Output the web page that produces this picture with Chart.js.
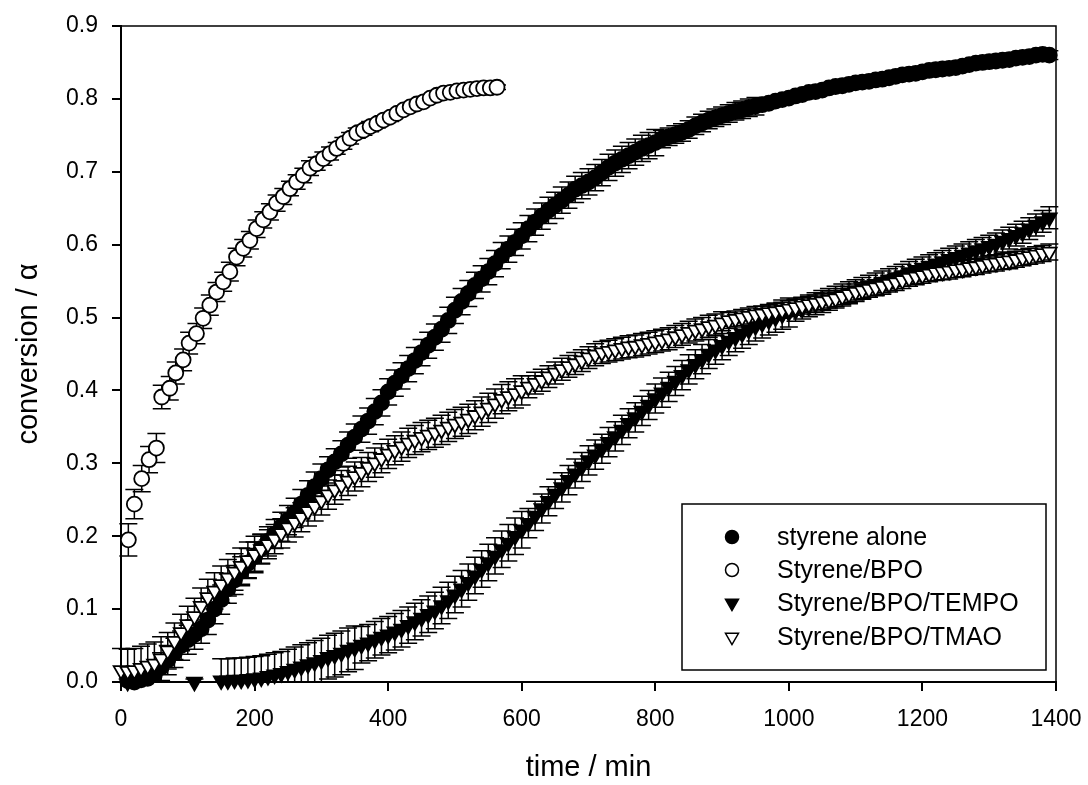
<!DOCTYPE html>
<html>
<head>
<meta charset="utf-8">
<title>Conversion vs time</title>
<script src="https://cdn.jsdelivr.net/npm/chart.js@4.4.1/dist/chart.umd.min.js"></script>
<style>
  html, body { margin: 0; padding: 0; background: #fff; }
  #wrap { width: 1088px; height: 785px; }
</style>
</head>
<body>
<div id="wrap"><canvas id="conversionChart" width="1088" height="785"></canvas></div>
<script>
// shared time grid (min) for the densely sampled runs
const timeGrid = [
  0, 10, 20, 30, 40, 50, 60, 70, 80, 90,
  100, 110, 120, 130, 140, 150, 160, 170, 180, 190,
  200, 210, 220, 230, 240, 250, 260, 270, 280, 290,
  300, 310, 320, 330, 340, 350, 360, 370, 380, 390,
  400, 410, 420, 430, 440, 450, 460, 470, 480, 490,
  500, 510, 520, 530, 540, 550, 560, 570, 580, 590,
  600, 610, 620, 630, 640, 650, 660, 670, 680, 690,
  700, 710, 720, 730, 740, 750, 760, 770, 780, 790,
  800, 810, 820, 830, 840, 850, 860, 870, 880, 890,
  900, 910, 920, 930, 940, 950, 960, 970, 980, 990,
  1000, 1010, 1020, 1030, 1040, 1050, 1060, 1070, 1080, 1090,
  1100, 1110, 1120, 1130, 1140, 1150, 1160, 1170, 1180, 1190,
  1200, 1210, 1220, 1230, 1240, 1250, 1260, 1270, 1280, 1290,
  1300, 1310, 1320, 1330, 1340, 1350, 1360, 1370, 1380, 1390,
];

const styreneAlone = [
  null, 0.002, 0.000, 0.003, 0.005, 0.010, 0.020, 0.030, 0.040, 0.050,
  0.058, 0.065, 0.073, 0.085, 0.100, 0.113, 0.128, 0.140, 0.152, 0.163,
  0.172, 0.183, 0.193, 0.203, 0.213, 0.222, 0.232, 0.244, 0.256, 0.268,
  0.279, 0.291, 0.302, 0.313, 0.325, 0.336, 0.347, 0.358, 0.371, 0.383,
  0.398, 0.410, 0.420, 0.430, 0.441, 0.452, 0.462, 0.473, 0.484, 0.496,
  0.510, 0.522, 0.533, 0.544, 0.553, 0.563, 0.574, 0.585, 0.594, 0.603,
  0.612, 0.622, 0.631, 0.639, 0.647, 0.654, 0.661, 0.668, 0.676, 0.681,
  0.686, 0.692, 0.699, 0.706, 0.712, 0.717, 0.722, 0.727, 0.732, 0.736,
  0.740, 0.745, 0.748, 0.751, 0.754, 0.758, 0.763, 0.767, 0.771, 0.774,
  0.777, 0.780, 0.783, 0.785, 0.788, 0.790, 0.792, 0.794, 0.797, 0.799,
  0.801, 0.804, 0.806, 0.809, 0.810, 0.812, 0.815, 0.817, 0.818, 0.820,
  0.822, 0.823, 0.824, 0.826, 0.827, 0.829, 0.831, 0.833, 0.834, 0.835,
  0.837, 0.839, 0.840, 0.841, 0.842, 0.843, 0.845, 0.847, 0.849, 0.850,
  0.851, 0.852, 0.853, 0.854, 0.856, 0.857, 0.858, 0.860, 0.861, 0.860,
];
const styreneAloneErr = [
  null, 0.010, 0.010, 0.010, 0.010, 0.010, 0.020, 0.020, 0.020, 0.020,
  0.020, 0.020, 0.020, 0.020, 0.020, 0.020, 0.020, 0.020, 0.020, 0.020,
  0.020, 0.020, 0.020, 0.020, 0.020, 0.020, 0.020, 0.020, 0.020, 0.020,
  0.020, 0.018, 0.018, 0.018, 0.018, 0.018, 0.018, 0.018, 0.018, 0.018,
  0.018, 0.018, 0.018, 0.018, 0.018, 0.018, 0.018, 0.018, 0.018, 0.018,
  0.018, 0.018, 0.018, 0.018, 0.018, 0.018, 0.018, 0.018, 0.018, 0.018,
  0.018, 0.018, 0.018, 0.018, 0.018, 0.018, 0.018, 0.018, 0.018, 0.018,
  0.018, 0.018, 0.018, 0.018, 0.018, 0.018, 0.018, 0.018, 0.018, 0.018,
  0.018, 0.012, 0.012, 0.012, 0.012, 0.012, 0.012, 0.012, 0.012, 0.012,
  0.012, 0.012, 0.012, 0.012, 0.012, 0.012, 0.006, 0.006, 0.006, 0.006,
  0.006, 0.006, 0.006, 0.006, 0.006, 0.006, 0.006, 0.006, 0.006, 0.006,
  0.006, 0.006, 0.006, 0.006, 0.006, 0.006, 0.006, 0.006, 0.006, 0.006,
  0.006, 0.006, 0.006, 0.006, 0.006, 0.006, 0.006, 0.006, 0.006, 0.006,
  0.006, 0.006, 0.006, 0.006, 0.006, 0.006, 0.006, 0.006, 0.006, 0.006,
];

// Styrene/BPO has its own sampling times
const bpoTimes = [
  11, 20, 31, 42, 53, 61, 73, 82, 93, 102,
  113, 123, 133, 143, 153, 163, 173, 183, 193, 203,
  213, 223, 233, 243, 253, 263, 273, 283, 293, 303,
  313, 323, 333, 343, 353, 363, 373, 383, 393, 403,
  413, 423, 433, 443, 453, 463, 473, 483, 493, 503,
  513, 523, 533, 543, 553, 563,
];
const styreneBpo = [
  0.195, 0.244, 0.279, 0.305, 0.321, 0.391, 0.403, 0.424, 0.442, 0.465,
  0.478, 0.499, 0.517, 0.535, 0.549, 0.563, 0.583, 0.595, 0.606, 0.622,
  0.634, 0.645, 0.657, 0.666, 0.677, 0.686, 0.695, 0.705, 0.711, 0.718,
  0.725, 0.732, 0.739, 0.746, 0.753, 0.757, 0.762, 0.766, 0.771, 0.775,
  0.780, 0.785, 0.789, 0.793, 0.796, 0.801, 0.805, 0.808, 0.809, 0.811,
  0.812, 0.813, 0.814, 0.815, 0.815, 0.816,
];
const styreneBpoErr = [
  0.022, 0.020, 0.018, 0.018, 0.020, 0.016, 0.016, 0.015, 0.015, 0.015,
  0.014, 0.014, 0.014, 0.013, 0.013, 0.013, 0.012, 0.012, 0.012, 0.012,
  0.011, 0.011, 0.011, 0.011, 0.010, 0.010, 0.010, 0.010, 0.009, 0.009,
  0.009, 0.008, 0.008, 0.008, 0.007, 0.007, 0.007, 0.006, 0.006, 0.006,
  0.005, 0.005, 0.005, 0.005, 0.004, 0.004, 0.004, 0.004, 0.004, 0.003,
  0.003, 0.003, 0.003, 0.003, 0.003, 0.003,
];

const styreneBpoTempo = [
  null, 0.000, null, null, null, null, null, null, null, null,
  null, 0.000, null, null, null, 0.002, 0.002, 0.003, 0.003, 0.004,
  0.005, 0.006, 0.008, 0.010, 0.012, 0.015, 0.018, 0.021, 0.024, 0.027,
  0.030, 0.034, 0.037, 0.040, 0.044, 0.047, 0.051, 0.054, 0.058, 0.062,
  0.065, 0.069, 0.073, 0.078, 0.083, 0.088, 0.093, 0.098, 0.105, 0.112,
  0.120, 0.128, 0.137, 0.146, 0.155, 0.164, 0.173, 0.182, 0.191, 0.200,
  0.209, 0.218, 0.228, 0.238, 0.248, 0.258, 0.267, 0.277, 0.286, 0.295,
  0.304, 0.312, 0.320, 0.329, 0.337, 0.346, 0.355, 0.363, 0.372, 0.380,
  0.389, 0.397, 0.405, 0.413, 0.421, 0.429, 0.436, 0.443, 0.450, 0.456,
  0.462, 0.468, 0.473, 0.478, 0.483, 0.488, 0.492, 0.496, 0.500, 0.504,
  0.507, 0.510, 0.513, 0.516, 0.519, 0.522, 0.525, 0.528, 0.531, 0.534,
  0.537, 0.540, 0.543, 0.546, 0.549, 0.552, 0.555, 0.558, 0.562, 0.565,
  0.568, 0.571, 0.574, 0.577, 0.580, 0.583, 0.586, 0.589, 0.592, 0.595,
  0.598, 0.601, 0.605, 0.609, 0.613, 0.617, 0.622, 0.627, 0.632, 0.637,
];
const styreneBpoTempoErr = [
  null, 0.004, null, null, null, null, null, null, null, null,
  null, 0.004, null, null, null, 0.030, 0.030, 0.030, 0.030, 0.030,
  0.030, 0.030, 0.030, 0.030, 0.030, 0.030, 0.030, 0.030, 0.030, 0.030,
  0.030, 0.030, 0.030, 0.030, 0.030, 0.030, 0.025, 0.025, 0.025, 0.025,
  0.025, 0.025, 0.025, 0.025, 0.025, 0.025, 0.025, 0.025, 0.025, 0.025,
  0.025, 0.025, 0.025, 0.025, 0.025, 0.025, 0.025, 0.025, 0.025, 0.025,
  0.025, 0.020, 0.020, 0.020, 0.020, 0.020, 0.020, 0.020, 0.020, 0.020,
  0.020, 0.020, 0.020, 0.020, 0.020, 0.020, 0.020, 0.020, 0.020, 0.020,
  0.020, 0.020, 0.020, 0.020, 0.020, 0.020, 0.020, 0.020, 0.020, 0.020,
  0.020, 0.020, 0.020, 0.020, 0.020, 0.020, 0.020, 0.020, 0.020, 0.020,
  0.020, 0.015, 0.015, 0.015, 0.015, 0.015, 0.015, 0.015, 0.015, 0.015,
  0.015, 0.015, 0.015, 0.015, 0.015, 0.015, 0.015, 0.015, 0.015, 0.015,
  0.015, 0.015, 0.015, 0.015, 0.015, 0.015, 0.015, 0.015, 0.015, 0.015,
  0.015, 0.015, 0.015, 0.015, 0.015, 0.015, 0.015, 0.015, 0.015, 0.015,
];

const styreneBpoTmao = [
  0.016, 0.015, 0.016, 0.019, 0.022, 0.025, 0.032, 0.043, 0.056, 0.068,
  0.079, 0.090, 0.104, 0.116, 0.125, 0.134, 0.143, 0.151, 0.159, 0.167,
  0.175, 0.182, 0.189, 0.196, 0.204, 0.212, 0.219, 0.226, 0.234, 0.241,
  0.249, 0.257, 0.264, 0.270, 0.276, 0.282, 0.288, 0.295, 0.301, 0.307,
  0.313, 0.318, 0.323, 0.328, 0.332, 0.336, 0.339, 0.342, 0.346, 0.350,
  0.354, 0.357, 0.361, 0.366, 0.371, 0.376, 0.382, 0.388, 0.392, 0.396,
  0.400, 0.405, 0.410, 0.414, 0.419, 0.424, 0.429, 0.433, 0.437, 0.441,
  0.445, 0.449, 0.452, 0.454, 0.456, 0.458, 0.460, 0.461, 0.463, 0.465,
  0.467, 0.469, 0.471, 0.474, 0.477, 0.480, 0.483, 0.485, 0.488, 0.490,
  0.493, 0.496, 0.498, 0.500, 0.502, 0.504, 0.505, 0.507, 0.508, 0.510,
  0.512, 0.514, 0.516, 0.518, 0.520, 0.522, 0.524, 0.526, 0.529, 0.532,
  0.535, 0.537, 0.539, 0.541, 0.543, 0.546, 0.548, 0.551, 0.554, 0.556,
  0.558, 0.560, 0.562, 0.563, 0.564, 0.566, 0.567, 0.569, 0.570, 0.572,
  0.574, 0.575, 0.577, 0.578, 0.580, 0.582, 0.584, 0.586, 0.588, 0.590,
];
const styreneBpoTmaoErr = [
  0.030, 0.030, 0.030, 0.030, 0.030, 0.030, 0.030, 0.025, 0.025, 0.025,
  0.025, 0.025, 0.025, 0.025, 0.025, 0.025, 0.025, 0.025, 0.025, 0.025,
  0.025, 0.020, 0.020, 0.020, 0.020, 0.020, 0.020, 0.020, 0.020, 0.020,
  0.020, 0.020, 0.020, 0.020, 0.020, 0.020, 0.020, 0.020, 0.020, 0.020,
  0.020, 0.020, 0.020, 0.020, 0.020, 0.020, 0.020, 0.020, 0.020, 0.020,
  0.020, 0.020, 0.020, 0.020, 0.020, 0.020, 0.020, 0.020, 0.020, 0.020,
  0.020, 0.015, 0.015, 0.015, 0.015, 0.015, 0.015, 0.015, 0.015, 0.015,
  0.015, 0.015, 0.015, 0.015, 0.015, 0.015, 0.015, 0.015, 0.015, 0.015,
  0.015, 0.015, 0.015, 0.015, 0.015, 0.015, 0.015, 0.015, 0.015, 0.015,
  0.015, 0.011, 0.011, 0.011, 0.011, 0.011, 0.011, 0.011, 0.011, 0.011,
  0.011, 0.011, 0.011, 0.011, 0.011, 0.011, 0.011, 0.011, 0.011, 0.011,
  0.011, 0.011, 0.011, 0.011, 0.011, 0.011, 0.011, 0.011, 0.011, 0.011,
  0.011, 0.011, 0.011, 0.011, 0.011, 0.011, 0.011, 0.011, 0.011, 0.011,
  0.011, 0.011, 0.011, 0.011, 0.011, 0.011, 0.011, 0.011, 0.011, 0.011,
];

const xTicks = [0, 200, 400, 600, 800, 1000, 1200, 1400];
const yTicks = [0.0, 0.1, 0.2, 0.3, 0.4, 0.5, 0.6, 0.7, 0.8, 0.9];

const FONT = "'Liberation Sans', Arial, Helvetica, sans-serif";

function toPoints(times, values, errs) {
  const pts = [];
  times.forEach((t, i) => {
    if (values[i] === null || values[i] === undefined) return;
    pts.push({ x: t, y: values[i], err: errs[i] || 0 });
  });
  return pts;
}

// vertical error bars with caps, drawn under each dataset's own markers
const errorBarPlugin = {
  id: "errorBars",
  beforeDatasetDraw(chart, args) {
    const { ctx, chartArea } = chart;
    const yScale = chart.scales.y;
    const dataset = chart.data.datasets[args.index];
    const capHalf = 9;
    ctx.save();
    ctx.beginPath();
    ctx.rect(0, chartArea.top, chart.width, chartArea.bottom - chartArea.top);
    ctx.clip();
    ctx.strokeStyle = "#000";
    ctx.lineWidth = 1.5;
    args.meta.data.forEach((el, i) => {
      const p = dataset.data[i];
      if (!p || !p.err) return;
      const yTop = yScale.getPixelForValue(p.y + p.err);
      const yBot = yScale.getPixelForValue(p.y - p.err);
      ctx.beginPath();
      ctx.moveTo(el.x, yTop);
      ctx.lineTo(el.x, yBot);
      ctx.moveTo(el.x - capHalf, yTop);
      ctx.lineTo(el.x + capHalf, yTop);
      ctx.moveTo(el.x - capHalf, yBot);
      ctx.lineTo(el.x + capHalf, yBot);
      ctx.stroke();
    });
    ctx.restore();
  },
};

// closes the plot frame and draws the boxed legend in the lower right
const frameLegendPlugin = {
  id: "frameLegend",
  afterDraw(chart) {
    const { ctx, chartArea } = chart;
    ctx.save();
    ctx.strokeStyle = "#000";
    ctx.lineWidth = 1.5;
    ctx.beginPath();
    ctx.moveTo(chartArea.left, chartArea.top);
    ctx.lineTo(chartArea.right, chartArea.top);
    ctx.lineTo(chartArea.right, chartArea.bottom);
    ctx.stroke();

    const box = { x: 682, y: 504, w: 364, h: 166 };
    ctx.fillStyle = "#fff";
    ctx.fillRect(box.x, box.y, box.w, box.h);
    ctx.lineWidth = 1.5;
    ctx.strokeRect(box.x, box.y, box.w, box.h);

    const rowY = [537, 570, 603, 637];
    ctx.font = "25px " + FONT;
    ctx.textBaseline = "middle";
    ctx.textAlign = "left";
    chart.data.datasets.forEach((ds, i) => {
      ctx.fillStyle = ds.backgroundColor;
      ctx.strokeStyle = ds.borderColor;
      ctx.lineWidth = 1.5;
      Chart.helpers.drawPoint(
        ctx,
        {
          pointStyle: ds.pointStyle,
          rotation: ds.pointRotation || 0,
          radius: ds.pointStyle === "triangle" ? 7.5 : 6.5,
          borderWidth: 1.5,
        },
        732,
        rowY[i],
      );
      ctx.fillStyle = "#000";
      ctx.fillText(ds.label, 777, rowY[i] + 1);
    });
    ctx.restore();
  },
};

const baseDataset = {
  showLine: false,
  borderColor: "#000",
  pointBorderWidth: 1.8,
  clip: false,
};

const datasets = [
  Object.assign({}, baseDataset, {
    label: "styrene alone",
    data: toPoints(timeGrid, styreneAlone, styreneAloneErr),
    pointStyle: "circle",
    pointRadius: 7.5,
    backgroundColor: "#000",
    order: 4,
  }),
  Object.assign({}, baseDataset, {
    label: "Styrene/BPO",
    data: toPoints(bpoTimes, styreneBpo, styreneBpoErr),
    pointStyle: "circle",
    pointRadius: 7.5,
    backgroundColor: "#fff",
    order: 3,
  }),
  Object.assign({}, baseDataset, {
    label: "Styrene/BPO/TEMPO",
    data: toPoints(timeGrid, styreneBpoTempo, styreneBpoTempoErr),
    pointStyle: "triangle",
    pointRotation: 180,
    pointRadius: 8.5,
    backgroundColor: "#000",
    order: 2,
  }),
  Object.assign({}, baseDataset, {
    label: "Styrene/BPO/TMAO",
    data: toPoints(timeGrid, styreneBpoTmao, styreneBpoTmaoErr),
    pointStyle: "triangle",
    pointRotation: 180,
    pointRadius: 8.5,
    backgroundColor: "#fff",
    order: 1,
  }),
];

const axisGrid = {
  display: true,
  drawOnChartArea: false,
  drawTicks: true,
  tickLength: 9,
  color: "#000",
  lineWidth: 2,
};

new Chart(document.getElementById("conversionChart").getContext("2d"), {
  type: "scatter",
  data: { datasets },
  options: {
    responsive: false,
    animation: false,
    layout: { padding: { left: 0, right: 32, top: 26, bottom: 0 } },
    plugins: {
      legend: { display: false },
      tooltip: { enabled: false },
    },
    scales: {
      x: {
        type: "linear",
        min: xTicks[0],
        max: xTicks[xTicks.length - 1],
        afterBuildTicks: (scale) => {
          scale.ticks = xTicks.map((v) => ({ value: v }));
        },
        afterFit: (scale) => {
          scale.height = 103;
          scale.paddingLeft = 0;
          scale.paddingRight = 0;
        },
        ticks: {
          color: "#000",
          font: { family: FONT, size: 23 },
          padding: 15,
          maxRotation: 0,
          autoSkip: false,
          callback: (v) => String(v),
        },
        grid: axisGrid,
        border: { display: true, color: "#000", width: 2 },
        title: {
          display: true,
          text: "time / min",
          color: "#000",
          font: { family: FONT, size: 29 },
          padding: { top: -3, bottom: 0 },
        },
      },
      y: {
        type: "linear",
        min: yTicks[0],
        max: yTicks[yTicks.length - 1],
        afterBuildTicks: (scale) => {
          scale.ticks = yTicks.map((v) => ({ value: v }));
        },
        afterFit: (scale) => {
          scale.width = 121;
          scale.paddingTop = 0;
          scale.paddingBottom = 0;
        },
        ticks: {
          color: "#000",
          font: { family: FONT, size: 23 },
          padding: 14,
          autoSkip: false,
          callback: (v) => Number(v).toFixed(1),
        },
        grid: axisGrid,
        border: { display: true, color: "#000", width: 2 },
        title: {
          display: true,
          text: "conversion / α",
          color: "#000",
          font: { family: FONT, size: 29 },
          padding: { top: 12, bottom: 0 },
        },
      },
    },
  },
  plugins: [errorBarPlugin, frameLegendPlugin],
});
</script>
</body>
</html>
